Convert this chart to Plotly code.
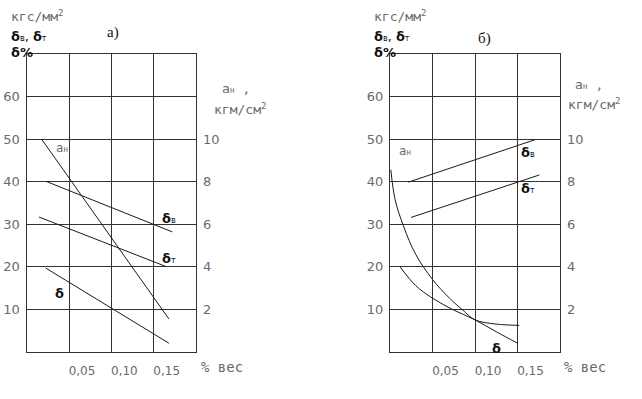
import plotly.graph_objects as go

W, H = 642, 399

# ---- data: panel a) ----
a_an_x = [0.0177, 0.168]
a_an_y = [10.0, 1.54]          # aн, кгм/см² (right axis)
a_sb_x = [0.0228, 0.172]
a_sb_y = [40.1, 28.2]          # δв
a_st_x = [0.0145, 0.164]
a_st_y = [31.7, 20.1]          # δт
a_d_x = [0.0224, 0.168]
a_d_y = [19.7, 2.0]            # δ %

# ---- data: panel б) ----
b_an_x = [0.001, 0.006, 0.016, 0.03, 0.05, 0.07, 0.085, 0.10, 0.125, 0.152]
b_an_y = [8.56, 7.16, 5.9, 4.6, 3.4, 2.52, 1.98, 1.5, 1.3, 1.24]
b_sb_x = [0.0215, 0.1706]
b_sb_y = [39.9, 49.9]
b_st_x = [0.0247, 0.1757]
b_st_y = [31.6, 41.6]
b_d_x = [0.0118, 0.03, 0.05, 0.074, 0.10, 0.125, 0.150]
b_d_y = [20.0, 15.6, 12.6, 9.9, 7.5, 4.7, 2.0]

x_ticks = [0.05, 0.10, 0.15]
x_labels = ["0,05", "0,10", "0,15"]
left_ticks = [10, 20, 30, 40, 50, 60]
left_labels = ["10", "20", "30", "40", "50", "60"]
right_ticks = [2, 4, 6, 8, 10]
right_labels = ["2", "4", "6", "8", "10"]


def px(x):
    return x / W


def py(y):
    return 1 - y / H


GRID = "#333333"
LINE = "#1a1a1a"
GRAY = "#6a6a6a"
NUMFONT = dict(family="DejaVu Sans", size=13, color=GRAY)

fig = go.Figure()

panels = [
    dict(x0=26.7, x1=196.0, xa="x", ya="y", ya2="y2",
         series=[(a_sb_x, a_sb_y, False), (a_st_x, a_st_y, False), (a_d_x, a_d_y, False)],
         an=(a_an_x, a_an_y)),
    dict(x0=390.0, x1=560.0, xa="x2", ya="y3", ya2="y4",
         series=[(b_sb_x, b_sb_y, False), (b_st_x, b_st_y, False), (b_d_x, b_d_y, True)],
         an=(b_an_x, b_an_y)),
]

for p in panels:
    for xs, ys, smooth in p["series"]:
        fig.add_trace(go.Scatter(x=xs, y=ys, mode="lines", xaxis=p["xa"], yaxis=p["ya"],
                                 line=dict(color=LINE, width=1,
                                           shape="spline" if smooth else "linear"),
                                 showlegend=False, hoverinfo="skip"))
    fig.add_trace(go.Scatter(x=p["an"][0], y=p["an"][1], mode="lines",
                             xaxis=p["xa"], yaxis=p["ya2"],
                             line=dict(color=LINE, width=1,
                                       shape="spline" if len(p["an"][0]) > 2 else "linear"),
                             showlegend=False, hoverinfo="skip"))

top, bottom = 54.3, 351.7
ydom = [py(bottom), py(top)]

layout_axes = {}
for i, p in enumerate(panels):
    xkey = "xaxis" if i == 0 else "xaxis2"
    ykey = "yaxis" if i == 0 else "yaxis3"
    y2key = "yaxis2" if i == 0 else "yaxis4"
    xa = p["xa"]
    ya = p["ya"]
    layout_axes[xkey] = dict(domain=[px(p["x0"]), px(p["x1"])], range=[0, 0.20],
                             anchor=ya, tickvals=x_ticks, ticktext=x_labels,
                             showgrid=True, gridcolor=GRID, gridwidth=1.4,
                             showline=True, linecolor=GRID, linewidth=1.4, mirror=True,
                             ticks="", zeroline=False, ticklabelshift=13,
                             ticklabelstandoff=8,
                             tickfont=dict(family="DejaVu Sans", size=12, color=GRAY),
                             fixedrange=True)
    layout_axes[ykey] = dict(domain=ydom, range=[0, 70], anchor=xa,
                             tickvals=left_ticks, ticktext=left_labels,
                             showgrid=True, gridcolor=GRID, gridwidth=1.4,
                             showline=True, linecolor=GRID, linewidth=1.4, mirror=True,
                             ticks="", zeroline=False, ticklabelstandoff=3,
                             tickfont=NUMFONT, fixedrange=True)
    layout_axes[y2key] = dict(domain=ydom, range=[0, 14], anchor=xa, overlaying=ya,
                              side="right", tickvals=right_ticks, ticktext=right_labels,
                              showgrid=False, showline=False, ticks="", zeroline=False,
                              ticklabelstandoff=6, tickfont=NUMFONT, fixedrange=True)

ann = []


def txt(x, y, s, size=11, color=GRAY, family="DejaVu Sans Mono", xanchor="left"):
    ann.append(dict(x=px(x), y=py(y), xref="paper", yref="paper", text=s,
                    showarrow=False, xanchor=xanchor, yanchor="middle",
                    font=dict(family=family, size=size, color=color)))


SUB = "<span style='font-size:8px'>%s</span>"
BOLD = dict(color="#111", family="DejaVu Sans")

for off in (0, 362.5):
    txt(9 + off, 16, "кгс/мм<sup>2</sup>", size=13)
    txt(9 + off, 36, "<b>δ</b>" + SUB % "в" + ", <b>δ</b>" + SUB % "т", size=13, **BOLD)
    txt(9 + off, 52, "<b>δ%</b>", size=13, **BOLD)

txt(105, 33, "а)", size=15, color="#111", family="Liberation Serif")
txt(476, 38, "б)", size=15, color="#111", family="Liberation Serif")

# panel a) right axis title and x unit
txt(220, 89, "a" + SUB % "н" + " ,", size=13)
txt(212, 109, "кгм/см<sup>2</sup>", size=13)
txt(199, 367, "% вес", size=14)
# panel б)
txt(573, 85, "a" + SUB % "н" + " ,", size=13)
txt(566, 104, "кгм/см<sup>2</sup>", size=13)
txt(562, 367, "% вес", size=14)

# curve labels a)
txt(54, 148, "a" + SUB % "н", size=12)
txt(160, 218, "<b>δ</b>" + SUB % "в", size=13, **BOLD)
txt(160, 258, "<b>δ</b>" + SUB % "т", size=13, **BOLD)
txt(53, 293, "<b>δ</b>", size=13, **BOLD)
# curve labels б)
txt(397, 151, "a" + SUB % "н", size=12)
txt(519, 152, "<b>δ</b>" + SUB % "в", size=13, **BOLD)
txt(519, 189, "<b>δ</b>" + SUB % "т", size=13, **BOLD)
txt(490, 348, "<b>δ</b>", size=13, **BOLD)

fig.update_layout(width=W, height=H, margin=dict(l=0, r=0, t=0, b=0),
                  paper_bgcolor="white", plot_bgcolor="white",
                  annotations=ann, showlegend=False, **layout_axes)

fig.write_html("out.html", config={"displayModeBar": False},
               post_script="document.body.style.margin='0';"
                           "document.body.style.overflow='hidden';")
